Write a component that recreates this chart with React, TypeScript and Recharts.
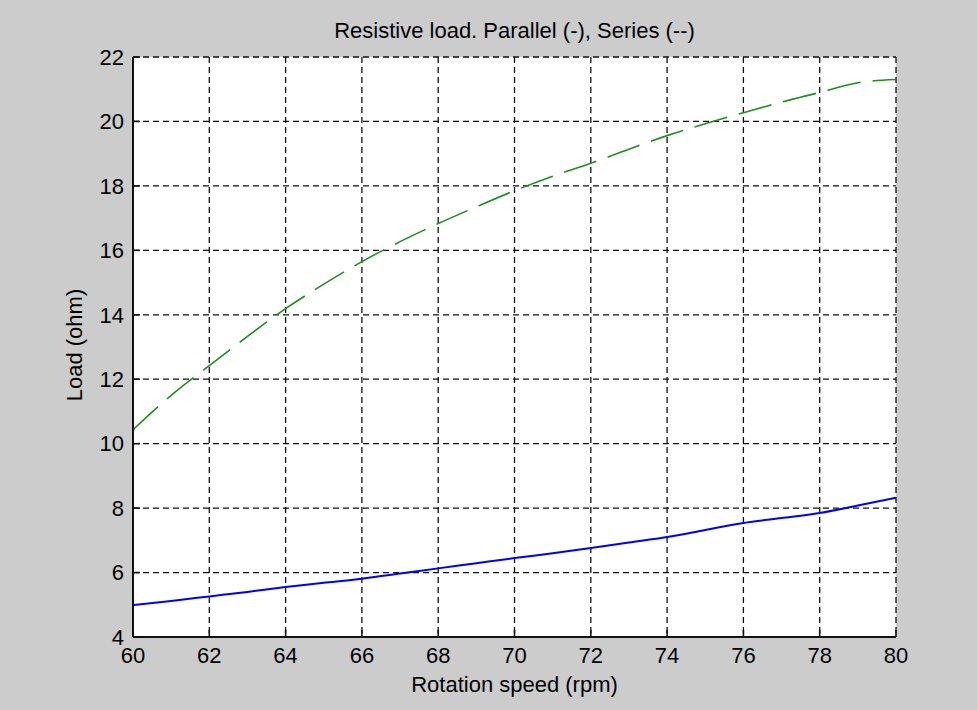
import { LineChart, Line, XAxis, YAxis, CartesianGrid } from 'recharts'

const speed = [60, 61, 62, 63, 64, 65, 66, 67, 68, 69, 70, 71, 72, 73, 74, 75, 76, 77, 78, 79, 80]
const parallel = [4.99, 5.12, 5.26, 5.4, 5.55, 5.68, 5.81, 5.97, 6.13, 6.29, 6.45, 6.6, 6.76, 6.93, 7.1, 7.32, 7.54, 7.69, 7.85, 8.08, 8.32]
const series = [10.43, 11.5, 12.42, 13.33, 14.19, 14.95, 15.65, 16.27, 16.83, 17.35, 17.85, 18.3, 18.7, 19.14, 19.56, 19.93, 20.27, 20.6, 20.9, 21.2, 21.3]
const xTicks = [60, 62, 64, 66, 68, 70, 72, 74, 76, 78, 80]
const yTicks = [4, 6, 8, 10, 12, 14, 16, 18, 20, 22]

const data = speed.map((s, i) => ({ speed: s, parallel: parallel[i], series: series[i] }))

const font = '"Liberation Sans", Arial, sans-serif'
const tickStyle = { fontSize: 22, fill: '#000', fontFamily: font }
const axisLine = { stroke: '#111', strokeWidth: 2 }
const tickLine = { stroke: '#111', strokeWidth: 1.6 }

export default function App() {
  return (
    <div style={{ position: 'absolute', left: 0, top: 0, width: 977, height: 710, background: '#cccccc', fontFamily: font }}>
      <div style={{ position: 'absolute', left: 133, width: 763, top: 18, textAlign: 'center', fontSize: 22, color: '#000' }}>
        Resistive load. Parallel (-), Series (--)
      </div>
      <div style={{ position: 'absolute', left: 133, width: 763, top: 672, textAlign: 'center', fontSize: 22, color: '#000' }}>
        Rotation speed (rpm)
      </div>
      <div
        style={{
          position: 'absolute', left: 75, top: 345, width: 300, marginLeft: -150, marginTop: -13,
          textAlign: 'center', fontSize: 22, color: '#000', transform: 'rotate(-90deg)', lineHeight: '26px',
        }}
      >
        Load (ohm)
      </div>
      <LineChart width={977} height={710} data={data} margin={{ left: 73, right: 81, top: 57, bottom: 33 }}>
        <CartesianGrid stroke="#111" strokeWidth={1.3} strokeDasharray="6 4" fill="#fff" horizontalValues={yTicks} verticalValues={xTicks} />
        <XAxis
          dataKey="speed"
          type="number"
          domain={[60, 80]}
          ticks={xTicks}
          height={40}
          tick={tickStyle}
          tickSize={-7}
          tickMargin={17}
          axisLine={axisLine}
          tickLine={tickLine}
          allowDataOverflow
        />
        <XAxis
          xAxisId="top"
          orientation="top"
          type="number"
          domain={[60, 80]}
          ticks={xTicks}
          height={0}
          tick={false}
          tickSize={-7}
          axisLine={axisLine}
          tickLine={tickLine}
        />
        <YAxis
          domain={[4, 22]}
          ticks={yTicks}
          width={60}
          tick={tickStyle}
          tickSize={-7}
          tickMargin={16}
          axisLine={axisLine}
          tickLine={tickLine}
          allowDataOverflow
        />
        <YAxis
          yAxisId="right"
          orientation="right"
          domain={[4, 22]}
          ticks={yTicks}
          width={0}
          tick={false}
          tickSize={-7}
          axisLine={axisLine}
          tickLine={tickLine}
        />
        <Line
          type="monotone"
          dataKey="parallel"
          stroke="#0000ff"
          strokeWidth={2}
          dot={false}
          isAnimationActive={false}
        />
        <Line
          type="monotone"
          dataKey="series"
          stroke="#1f8f1f"
          strokeWidth={1.6}
          strokeDasharray="34 12"
          dot={false}
          isAnimationActive={false}
        />
      </LineChart>
    </div>
  )
}
